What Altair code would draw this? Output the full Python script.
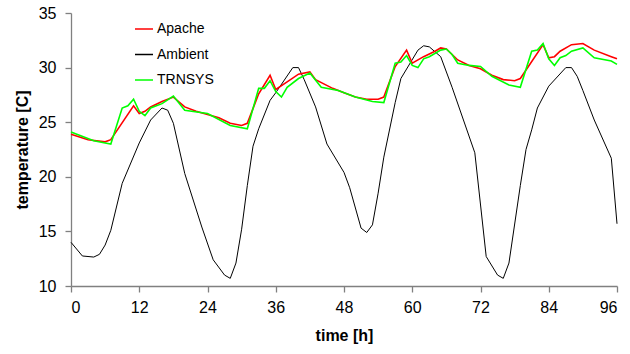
import altair as alt
import pandas as pd

# ---- data ----
ambient_h = [0, 2, 4, 5, 6, 7, 9, 12, 14, 16, 17, 18, 20, 23, 25, 27, 28, 29, 30, 31, 32, 33, 35, 36,
             39, 40, 41, 43, 45, 48, 49, 51, 52, 53, 54, 55, 57, 58, 61, 62, 63, 65, 67, 71, 73,
             75, 76, 77, 79, 80, 81, 82, 84, 87, 88, 89, 90, 92, 95, 96]
ambient_t = [14.0, 12.75, 12.65, 12.9, 13.75, 15.1, 19.4, 23.1, 25.2, 26.3, 26.1, 24.9, 20.3, 15.4,
             12.4, 11.0, 10.7, 12.1, 15.2, 19.2, 22.8, 24.4, 27.0, 27.7, 30.0, 30.0, 28.9, 26.4,
             23.0, 20.4, 19.0, 15.3, 14.9, 15.6, 18.5, 21.8, 26.8, 29.0, 31.6, 32.0, 31.9, 31.0,
             28.2, 22.2, 12.7, 11.0, 10.7, 12.1, 19.2, 22.5, 24.3, 26.3, 28.3, 30.0, 30.0, 29.2,
             27.9, 25.2, 21.7, 15.7]

apache_h = [0, 3, 6, 7, 11, 12, 13, 14, 16, 18, 20, 22, 24, 26, 28, 30, 31, 33, 35, 36, 38, 40, 42,
            43, 46, 48, 50, 52, 54, 55, 57, 59, 60, 62, 64, 65, 66, 68, 70, 72, 74, 76, 78, 79,
            83, 84, 85, 86, 88, 90, 92, 95, 96]
apache_t = [23.9, 23.4, 23.2, 23.4, 26.5, 25.8, 26.0, 26.4, 26.9, 27.3, 26.4, 26.0, 25.7, 25.4,
            24.9, 24.7, 24.9, 27.6, 29.3, 28.0, 28.7, 29.4, 29.6, 28.9, 28.1, 27.7, 27.3, 27.1,
            27.1, 27.3, 30.1, 31.6, 30.4, 31.0, 31.5, 31.8, 31.7, 30.7, 30.2, 29.9, 29.3, 28.9,
            28.8, 29.0, 32.1, 30.9, 31.0, 31.5, 32.1, 32.2, 31.6, 31.0, 30.8]

trnsys_h = [0, 4, 6, 7, 9, 10, 11, 12, 13, 14, 16, 18, 20, 24, 28, 31, 33, 34, 35, 36, 37, 38, 40,
            42, 44, 47, 50, 53, 55, 57, 58, 59, 60, 61, 62, 63, 65, 66, 67, 68, 70, 72, 74, 77,
            79, 81, 82, 83, 84, 85, 86, 87, 88, 90, 92, 95, 96]
trnsys_t = [24.1, 23.3, 23.1, 23.0, 26.3, 26.5, 27.1, 26.0, 25.6, 26.3, 26.7, 27.4, 26.1, 25.8,
            24.7, 24.4, 28.1, 28.1, 28.8, 27.8, 27.3, 28.2, 29.0, 29.5, 28.2, 27.9, 27.3, 26.9,
            26.8, 30.4, 30.5, 31.1, 30.2, 30.0, 30.8, 31.0, 31.6, 31.7, 31.2, 30.4, 30.2, 30.1,
            29.2, 28.4, 28.2, 31.5, 31.6, 32.2, 30.8, 30.2, 30.9, 31.1, 31.5, 31.8, 30.9, 30.6,
            30.3]

series_names = ["Apache", "Ambient", "TRNSYS"]
series_colors = ["#ff0000", "#000000", "#00ff00"]
x_ticks = [0, 12, 24, 36, 48, 60, 72, 84, 96]
y_ticks = [10, 15, 20, 25, 30, 35]


def frame(name, hs, ts):
    return pd.DataFrame({"series": name, "time": hs, "temp": ts})


FONT = "Liberation Sans"
axis_style = dict(grid=False, domainColor="#808080", tickColor="#808080", tickSize=6,
                  domainWidth=1.3, tickWidth=1.3,
                  labelFont=FONT, labelFontSize=16, labelColor="#000000",
                  titleFont=FONT, titleFontSize=16, titleFontWeight="bold",
                  titleColor="#000000")

x_enc = alt.X("time:Q", scale=alt.Scale(domain=[0, 96], nice=False, zero=False),
              axis=alt.Axis(values=x_ticks, title="time [h]",
                            labelPadding=7, titlePadding=12, **axis_style))
y_enc = alt.Y("temp:Q", scale=alt.Scale(domain=[10, 35], nice=False, zero=False),
              axis=alt.Axis(values=y_ticks, title="temperature [C]",
                            labelPadding=9, titlePadding=8, **axis_style))
color_enc = alt.Color("series:N",
                      scale=alt.Scale(domain=series_names, range=series_colors),
                      legend=alt.Legend(title=None, orient="none", legendX=63, legendY=6,
                                        symbolType="stroke", symbolSize=324,
                                        symbolStrokeWidth=1.5, labelFontSize=14,
                                        labelFont=FONT, labelColor="#000000",
                                        labelOffset=3, rowPadding=8.5, padding=0))


def layer(df, width):
    return alt.Chart(df).mark_line(strokeWidth=width).encode(
        x=x_enc, y=y_enc, color=color_enc)


chart = alt.layer(
    layer(frame("Ambient", ambient_h, ambient_t), 1.0),
    layer(frame("Apache", apache_h, apache_t), 1.6),
    layer(frame("TRNSYS", trnsys_h, trnsys_t), 1.6),
).properties(
    width=546, height=273,
    autosize="none",
    padding={"left": 71, "top": 13, "right": 13, "bottom": 68},
    background="white",
).configure_view(
    stroke=None
)

chart.save("out.html", embed_options={"renderer": "svg", "actions": False})
